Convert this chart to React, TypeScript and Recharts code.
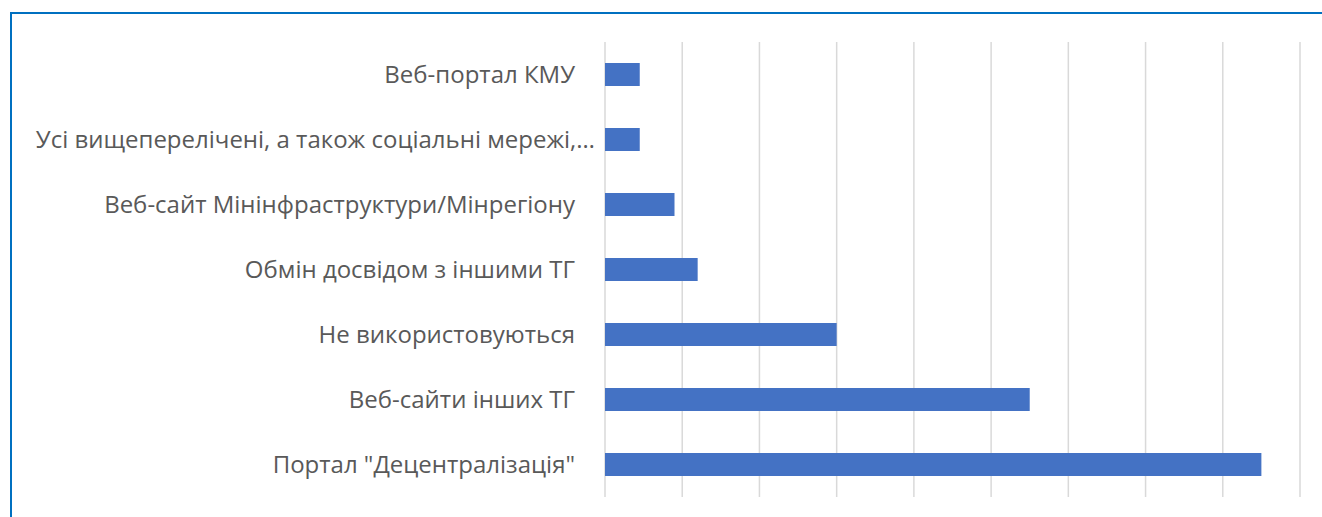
import { BarChart, Bar, XAxis, YAxis, CartesianGrid } from 'recharts'

// джерела інформації, порядок зверху вниз
const sources = [
  'Веб-портал КМУ',
  'Усі вищеперелічені, а також соціальні мережі,…',
  'Веб-сайт Мінінфраструктури/Мінрегіону',
  'Обмін досвідом з іншими ТГ',
  'Не використовуються',
  'Веб-сайти інших ТГ',
  'Портал "Децентралізація"',
]
const shares = [4.5, 4.5, 9, 12, 30, 55, 85]
const gridTicks = [0, 10, 20, 30, 40, 50, 60, 70, 80, 90]

const data = sources.map((name, i) => ({ name, value: shares[i] }))

function CategoryTick(props: any) {
  const { x, y, payload } = props
  // обрізаний підпис у Excel виходить трохи правіше за інші
  const cut = String(payload.value).endsWith('…')
  return (
    <text
      x={x - (cut ? 2 : 22)}
      y={y}
      dy={8}
      textAnchor="end"
      fill="#595959"
      fontSize={24}
      fontFamily="'Open Sans', sans-serif"
    >
      {payload.value}
    </text>
  )
}

export default function App() {
  return (
    <div
      style={{
        position: 'fixed',
        left: 10,
        top: 12,
        width: 1312,
        height: 505,
        borderTop: '2px solid #0070C0',
        borderLeft: '2px solid #0070C0',
        background: '#fff',
      }}
    >
      <BarChart
        width={1310}
        height={503}
        data={data}
        layout="vertical"
        margin={{ top: 28, right: 22, bottom: 20, left: 0 }}
      >
        <CartesianGrid horizontal={false} stroke="#D9D9D9" strokeWidth={1.5} />
        <XAxis
          type="number"
          domain={[0, 90]}
          ticks={gridTicks}
          interval={0}
          tick={() => <g />}
          axisLine={false}
          tickLine={false}
          height={0}
        />
        <YAxis
          type="category"
          dataKey="name"
          width={593}
          axisLine={false}
          tickLine={false}
          tick={<CategoryTick />}
        />
        <Bar dataKey="value" fill="#4472C4" barSize={23} isAnimationActive={false} />
      </BarChart>
    </div>
  )
}
